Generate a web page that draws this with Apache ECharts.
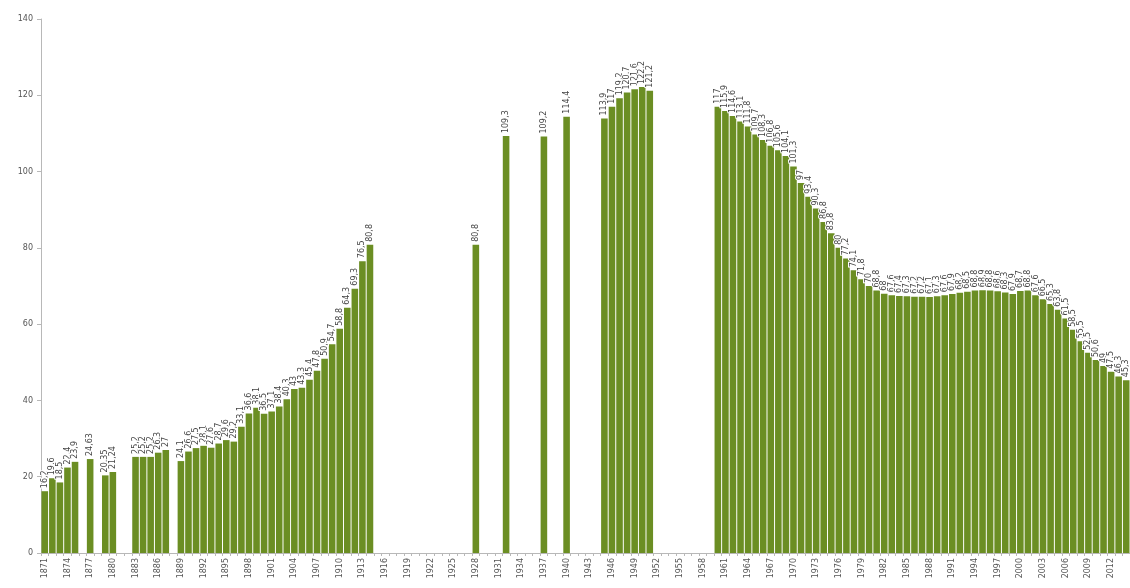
<!DOCTYPE html>
<html>
<head>
<meta charset="utf-8">
<script src="https://cdn.jsdelivr.net/npm/echarts@6/dist/echarts.min.js"></script>
<style>
  html, body { margin: 0; padding: 0; background: #fff; }
  #chart { width: 1130px; height: 588px; }
</style>
</head>
<body>
<div id="chart"></div>
<script>
// Categories: every year from 1871 to 2014
const firstYear = 1871;
const lastYear = 2014;
const years = [];
for (let y = firstYear; y <= lastYear; y++) years.push(String(y));

// Values per year (null = no data)
const values1871_1910 = [
  16.2, 19.6, 18.5, 22.4, 23.9, null, 24.63, null, 20.35, 21.24,
  null, null, 25.2, 25.2, 25.2, 26.3, 27.0, null, 24.1, 26.6,
  27.5, 28.1, 27.6, 28.7, 29.6, 29.2, 33.1, 36.6, 38.1, 36.5,
  37.1, 38.4, 40.3, 43.0, 43.3, 45.4, 47.8, 50.9, 54.7, 58.8
];
const values1911_1960 = [
  64.3, 69.3, 76.5, 80.8, null, null, null, null, null, null,
  null, null, null, null, null, null, null, 80.8, null, null,
  null, 109.3, null, null, null, null, 109.2, null, null, 114.4,
  null, null, null, null, 113.9, 117.0, 119.2, 120.7, 121.6, 122.2,
  121.2, null, null, null, null, null, null, null, null, 117.0
];
const values1961_2014 = [
  115.9, 114.6, 113.1, 111.8, 109.7, 108.3, 106.8, 105.6, 104.1, 101.3,
  97.0, 93.4, 90.3, 86.8, 83.8, 80.0, 77.2, 74.1, 71.8, 70.0,
  68.8, 68.0, 67.6, 67.4, 67.3, 67.2, 67.2, 67.1, 67.3, 67.6,
  67.9, 68.2, 68.5, 68.8, 68.9, 68.8, 68.6, 68.3, 67.9, 68.7,
  68.8, 67.6, 66.5, 65.3, 63.8, 61.5, 58.5, 55.5, 52.5, 50.6,
  49.0, 47.5, 46.3, 45.3
];
const values = values1871_1910.concat(values1911_1960, values1961_2014);

const yTicks = { min: 0, max: 140, interval: 20 };

const chart = echarts.init(document.getElementById('chart'), null, { renderer: 'canvas' });
chart.setOption({
  animation: false,
  backgroundColor: '#ffffff',
  textStyle: { fontFamily: 'DejaVu Sans' },
  grid: { left: 41, right: 0, top: 19, bottom: 35, containLabel: false },
  xAxis: {
    type: 'category',
    data: years,
    boundaryGap: true,
    axisLine: { show: true, lineStyle: { color: '#b8b8b8', width: 1 } },
    axisTick: { show: true, interval: 0, length: 3, lineStyle: { color: '#b8b8b8' } },
    axisLabel: {
      interval: 2,
      rotate: 90,
      fontSize: 8,
      color: '#555',
      margin: 5,
      fontFamily: 'DejaVu Sans'
    },
    splitLine: { show: false }
  },
  yAxis: {
    type: 'value',
    min: yTicks.min,
    max: yTicks.max,
    interval: yTicks.interval,
    axisLine: { show: true, lineStyle: { color: '#b8b8b8', width: 1 } },
    axisTick: { show: true, length: 4, lineStyle: { color: '#b8b8b8' } },
    axisLabel: { fontSize: 8, color: '#555', margin: 8, fontFamily: 'DejaVu Sans' },
    splitLine: { show: false }
  },
  series: [{
    type: 'bar',
    data: values,
    barCategoryGap: '13%',
    itemStyle: { color: '#6b8e23' },
    label: {
      show: true,
      position: 'top',
      rotate: 90,
      align: 'left',
      verticalAlign: 'middle',
      distance: 3,
      fontSize: 8,
      color: '#444',
      fontFamily: 'DejaVu Sans',
      textBorderColor: '#ffffff',
      textBorderWidth: 2,
      formatter: function (p) {
        return p.value == null ? '' : String(p.value).replace('.', ',');
      }
    },
    labelLayout: { hideOverlap: false }
  }]
});
</script>
</body>
</html>
